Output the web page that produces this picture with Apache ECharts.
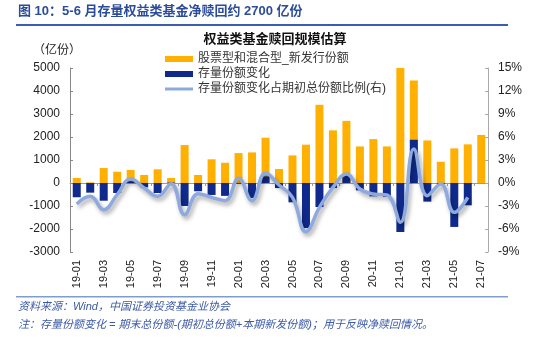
<!DOCTYPE html>
<html><head><meta charset="utf-8">
<script src="https://cdn.jsdelivr.net/npm/echarts@6/dist/echarts.min.js"></script>
<style>html,body{margin:0;padding:0;background:#fff}#c{width:550px;height:344px}</style>
</head><body><div id="c"></div>
<script>
const categories = ['19-01','19-02','19-03','19-04','19-05','19-06','19-07','19-08','19-09','19-10','19-11','19-12',
  '20-01','20-02','20-03','20-04','20-05','20-06','20-07','20-08','20-09','20-10','20-11','20-12',
  '21-01','21-02','21-03','21-04','21-05','21-06','21-07'];
const newIssue = [220,30,650,490,565,350,595,217,1650,350,1030,880,1300,1330,1970,610,1200,1665,3400,2290,2700,1590,1910,1590,5000,4460,1850,925,1505,1680,2090];
const stockChange = [-620,-420,-770,-435,80,-190,-435,20,-1000,-360,-520,-560,-30,-650,290,-220,-840,-1960,-1045,-220,360,-320,-580,-610,-2130,1880,-810,-60,-1910,-970,null];
const ratio = [-2.74,-1.74,-3.48,-1.52,0.52,-0.65,-1.74,-0.09,-4.13,-1.39,-1.87,-2.3,0.61,-2.3,1.3,-0.26,-1.87,-6.35,-3.17,-0.57,1.17,-0.78,-1.43,-1.57,-5.13,4.43,-1.65,-0.13,-3.83,-1.87,null];
const leftTicks = {min:-3000,max:5000,interval:1000};
const rightTicks = {min:-9,max:15,interval:3};
const names = ['股票型和混合型_新发行份额','存量份额变化','存量份额变化占期初总份额比例(右)'];

const FONT = '"Liberation Sans","Noto Sans CJK SC",sans-serif';
const chart = echarts.init(document.getElementById('c'));
chart.setOption({
  animation:false,
  textStyle:{fontFamily:FONT},
  grid:{left:70,right:62,top:68,bottom:92},
  legend:{
    orient:'vertical', left:160, top:48, itemGap:3, itemWidth:28, itemHeight:6,
    textStyle:{fontSize:12,color:'#333',fontFamily:FONT},
    data:[{name:names[0],icon:'rect'},{name:names[1],icon:'rect'},
          {name:names[2],icon:'path://M0,1.5L28,1.5L28,4.5L0,4.5Z'}]
  },
  graphic:[
    {type:'text',left:18,top:5,style:{text:'图 10：5-6 月存量权益类基金净赎回约 2700 亿份',fontSize:13,fontWeight:'bold',fill:'#2B4C9B',fontFamily:FONT}},
    {type:'rect',shape:{x:16,y:24,width:492,height:2},style:{fill:'#3A5DAE'}},
    {type:'text',left:'center',top:33,style:{text:'权益类基金赎回规模估算',fontSize:13,fontWeight:'bold',fill:'#111',fontFamily:FONT},x:-25},
    {type:'text',left:33,top:45,style:{text:'（亿份）',fontSize:12,fill:'#222',fontFamily:FONT}},
    {type:'rect',shape:{x:16,y:296,width:492,height:1.5},style:{fill:'#7F9BD3'}},
    {type:'text',left:18,top:301,style:{text:'资料来源：Wind，中国证券投资基金业协会',fontSize:11,fontStyle:'italic',fill:'#3D5AA6',fontFamily:FONT}},
    {type:'text',left:18,top:319,style:{text:'注：存量份额变化 = 期末总份额-(期初总份额+本期新发份额)；用于反映净赎回情况。',fontSize:11,fontStyle:'italic',fill:'#3D5AA6',fontFamily:FONT}}
  ],
  xAxis:[
    {type:'category',data:categories,position:'bottom',
     axisLine:{show:false},axisTick:{show:false},
     axisLabel:{rotate:90,interval:1,fontSize:11,color:'#222',margin:8}},
    {type:'category',data:categories,position:'bottom',
     axisLine:{show:true,onZero:true,lineStyle:{color:'#999',width:1}},
     axisTick:{show:true,interval:1,length:3,lineStyle:{color:'#999'}},
     axisLabel:{show:false}}
  ],
  yAxis:[
    {type:'value',min:leftTicks.min,max:leftTicks.max,interval:leftTicks.interval,
     axisLine:{show:true,lineStyle:{color:'#888'}},axisTick:{show:true,inside:true,length:3,lineStyle:{color:'#888'}},
     splitLine:{show:false},axisLabel:{fontSize:12,color:'#222',margin:10,formatter:v=>String(v)}},
    {type:'value',min:rightTicks.min,max:rightTicks.max,interval:rightTicks.interval,
     axisLine:{show:true,lineStyle:{color:'#aaa'}},axisTick:{show:true,inside:true,length:3,lineStyle:{color:'#aaa'}},
     splitLine:{show:false},axisLabel:{fontSize:12,color:'#222',margin:10,formatter:v=>v+'%'}}
  ],
  series:[
    {name:names[0],type:'bar',data:newIssue,barWidth:8,barGap:'-100%',itemStyle:{color:'#FFB000'}},
    {name:names[1],type:'bar',data:stockChange,barWidth:8,barGap:'-100%',itemStyle:{color:'#0F2A8C'}},
    {name:names[2],type:'line',yAxisIndex:1,data:ratio,smooth:0.45,showSymbol:false,symbol:'none',
     lineStyle:{color:'#8DA9DD',width:3.5,shadowColor:'rgba(0,0,0,0.35)',shadowBlur:4,shadowOffsetX:2,shadowOffsetY:3},
     itemStyle:{color:'#8DA9DD'}}
  ]
});
</script></body></html>
